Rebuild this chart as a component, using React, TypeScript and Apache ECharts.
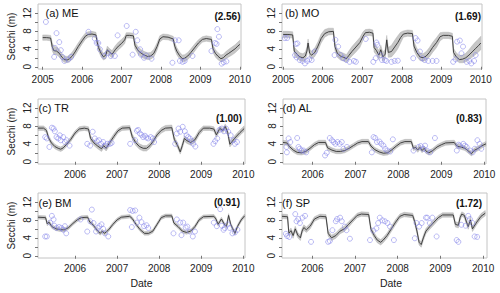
import React, { useEffect, useRef } from "react";
import * as echarts from "echarts";

// [decimal year, median, lower, upper]
const bandA = [
  [2005.0, 6.5, 5.9, 7.1], [2005.1, 6.5, 5.9, 7.1], [2005.2, 6.4, 5.8, 7.0], [2005.24, 4.5, 3.6, 5.4],
  [2005.28, 3.6, 2.8, 4.6], [2005.35, 3.5, 2.7, 4.4], [2005.42, 3.0, 2.2, 3.9], [2005.48, 2.2, 1.5, 3.0],
  [2005.55, 1.6, 1.0, 2.4], [2005.62, 1.5, 0.9, 2.3], [2005.68, 1.8, 1.2, 2.6], [2005.75, 2.4, 1.7, 3.3],
  [2005.82, 3.3, 2.5, 4.2], [2005.9, 4.5, 3.7, 5.3], [2006.0, 5.8, 5.1, 6.6], [2006.08, 6.8, 6.1, 7.5],
  [2006.15, 7.2, 6.6, 7.8], [2006.25, 7.3, 6.7, 7.9], [2006.35, 7.1, 6.5, 7.7], [2006.38, 5.5, 4.7, 6.3],
  [2006.42, 4.2, 3.4, 5.0], [2006.48, 3.0, 2.2, 3.8], [2006.54, 2.2, 1.5, 3.0], [2006.6, 2.6, 1.8, 3.4],
  [2006.64, 3.8, 3.0, 4.6], [2006.7, 3.2, 2.4, 4.0], [2006.76, 2.8, 2.0, 3.6], [2006.84, 3.8, 3.0, 4.7],
  [2006.92, 4.6, 3.8, 5.5], [2007.0, 5.2, 4.4, 6.1], [2007.08, 6.0, 5.2, 6.8], [2007.12, 7.0, 6.4, 7.6],
  [2007.2, 7.0, 6.4, 7.6], [2007.3, 6.9, 6.3, 7.5], [2007.34, 4.8, 4.0, 5.6], [2007.42, 3.6, 2.8, 4.4],
  [2007.5, 3.0, 2.2, 3.8], [2007.58, 2.6, 1.8, 3.4], [2007.66, 2.3, 1.6, 3.1], [2007.74, 2.4, 1.7, 3.2],
  [2007.82, 3.0, 2.2, 3.9], [2007.9, 4.5, 3.7, 5.3], [2007.97, 6.2, 5.5, 6.9], [2008.05, 6.7, 6.1, 7.3],
  [2008.18, 6.6, 6.0, 7.2], [2008.31, 6.2, 5.6, 6.8], [2008.35, 4.6, 3.8, 5.4], [2008.4, 3.5, 2.7, 4.3],
  [2008.47, 2.5, 1.8, 3.3], [2008.54, 1.8, 1.1, 2.6], [2008.6, 1.9, 1.2, 2.7], [2008.68, 2.4, 1.6, 3.2],
  [2008.76, 3.2, 2.4, 4.0], [2008.85, 4.2, 3.4, 5.0], [2008.95, 5.3, 4.6, 6.0], [2009.05, 6.1, 5.5, 6.7],
  [2009.15, 6.3, 5.7, 6.9], [2009.28, 6.1, 5.5, 6.7], [2009.32, 4.0, 3.2, 4.8], [2009.38, 3.0, 2.2, 3.8],
  [2009.44, 2.4, 1.6, 3.2], [2009.52, 1.8, 1.1, 2.6], [2009.58, 2.0, 1.3, 2.8], [2009.65, 2.6, 1.8, 3.4],
  [2009.72, 3.0, 2.2, 3.9], [2009.8, 3.5, 2.6, 4.4], [2009.88, 4.0, 3.1, 4.9], [2009.95, 4.6, 3.7, 5.5],
  [2010.0, 5.0, 4.1, 5.9],
];
const bandB = [
  [2005.0, 7.2, 6.5, 7.9], [2005.12, 7.2, 6.5, 7.9], [2005.24, 7.1, 6.4, 7.8], [2005.28, 3.5, 2.6, 4.4],
  [2005.35, 2.8, 1.9, 3.7], [2005.42, 2.2, 1.4, 3.1], [2005.5, 2.0, 1.2, 2.9], [2005.56, 2.4, 1.5, 3.3],
  [2005.6, 3.5, 2.6, 4.4], [2005.63, 5.3, 4.4, 6.2], [2005.67, 3.0, 2.1, 3.9], [2005.72, 2.6, 1.7, 3.5],
  [2005.8, 3.2, 2.3, 4.2], [2005.88, 4.6, 3.6, 5.6], [2005.96, 6.3, 5.3, 7.3], [2006.05, 7.4, 6.6, 8.3],
  [2006.15, 7.8, 7.1, 8.6], [2006.27, 7.9, 7.2, 8.6], [2006.31, 4.5, 3.6, 5.4], [2006.37, 3.0, 2.1, 3.9],
  [2006.45, 2.4, 1.5, 3.3], [2006.53, 2.1, 1.3, 3.0], [2006.6, 1.8, 1.0, 2.7], [2006.66, 2.5, 1.6, 3.5],
  [2006.74, 3.4, 2.4, 4.5], [2006.84, 4.4, 3.3, 5.5], [2006.94, 5.4, 4.3, 6.5], [2007.02, 6.8, 5.9, 7.8],
  [2007.08, 7.6, 6.9, 8.3], [2007.18, 7.7, 7.0, 8.4], [2007.27, 7.5, 6.8, 8.2], [2007.3, 4.3, 3.3, 5.3],
  [2007.36, 3.6, 2.6, 4.6], [2007.42, 2.6, 1.6, 3.6], [2007.47, 3.8, 2.8, 4.8], [2007.52, 2.2, 1.3, 3.2],
  [2007.58, 2.8, 1.8, 3.9], [2007.62, 6.0, 5.0, 7.0], [2007.66, 3.2, 2.1, 4.3], [2007.74, 3.4, 2.2, 4.8],
  [2007.82, 4.4, 3.0, 5.9], [2007.9, 5.4, 4.0, 6.9], [2007.97, 6.5, 5.3, 7.7], [2008.04, 7.3, 6.6, 8.0],
  [2008.15, 7.5, 6.8, 8.2], [2008.27, 7.4, 6.7, 8.1], [2008.31, 4.6, 3.6, 5.6], [2008.38, 3.2, 2.3, 4.2],
  [2008.46, 2.2, 1.4, 3.1], [2008.54, 2.0, 1.2, 2.9], [2008.62, 2.4, 1.5, 3.4], [2008.7, 3.2, 2.2, 4.3],
  [2008.78, 4.3, 3.2, 5.4], [2008.88, 5.4, 4.3, 6.5], [2008.97, 6.7, 5.8, 7.6], [2009.05, 7.0, 6.3, 7.7],
  [2009.18, 7.0, 6.3, 7.7], [2009.28, 6.8, 6.1, 7.5], [2009.31, 3.2, 2.3, 4.1], [2009.38, 2.2, 1.4, 3.1],
  [2009.46, 1.6, 0.9, 2.5], [2009.54, 1.7, 0.9, 2.6], [2009.62, 2.0, 1.1, 3.0], [2009.7, 2.6, 1.6, 3.8],
  [2009.78, 3.3, 2.1, 4.7], [2009.86, 4.0, 2.7, 5.5], [2009.94, 4.7, 3.3, 6.2], [2010.0, 5.3, 3.8, 6.8],
];
const bandC = [
  [2005.12, 7.5, 7.0, 8.0], [2005.25, 7.5, 7.0, 8.0], [2005.32, 7.0, 6.5, 7.5], [2005.37, 5.4, 4.9, 5.9],
  [2005.44, 4.2, 3.7, 4.7], [2005.52, 3.4, 2.9, 3.9], [2005.6, 3.0, 2.5, 3.5], [2005.66, 2.8, 2.3, 3.3],
  [2005.72, 3.1, 2.6, 3.6], [2005.8, 3.9, 3.4, 4.4], [2005.9, 5.0, 4.5, 5.5], [2006.0, 6.4, 5.9, 6.9],
  [2006.1, 7.3, 6.8, 7.8], [2006.22, 7.5, 7.0, 8.0], [2006.32, 7.3, 6.8, 7.8], [2006.37, 5.2, 4.6, 5.8],
  [2006.45, 4.2, 3.6, 4.8], [2006.54, 3.5, 2.9, 4.1], [2006.63, 2.9, 2.3, 3.5], [2006.68, 3.6, 3.0, 4.2],
  [2006.74, 3.0, 2.4, 3.6], [2006.82, 4.2, 3.6, 4.8], [2006.92, 5.6, 5.0, 6.2], [2007.02, 6.9, 6.4, 7.4],
  [2007.12, 7.5, 7.0, 8.0], [2007.3, 7.6, 7.1, 8.1], [2007.36, 5.6, 5.0, 6.2], [2007.44, 4.3, 3.7, 4.9],
  [2007.53, 3.4, 2.8, 4.0], [2007.62, 3.0, 2.4, 3.6], [2007.7, 3.0, 2.4, 3.6], [2007.78, 3.6, 3.0, 4.2],
  [2007.86, 4.6, 4.0, 5.2], [2007.95, 6.0, 5.4, 6.6], [2008.05, 7.0, 6.4, 7.6], [2008.15, 7.5, 6.9, 8.1],
  [2008.3, 7.6, 7.0, 8.2], [2008.36, 5.0, 4.4, 5.6], [2008.44, 3.6, 3.0, 4.2], [2008.5, 2.2, 1.7, 2.7],
  [2008.55, 3.6, 3.0, 4.2], [2008.6, 5.2, 4.6, 5.8], [2008.66, 4.7, 4.1, 5.3], [2008.75, 4.3, 3.7, 4.9],
  [2008.85, 4.9, 4.3, 5.5], [2008.95, 6.5, 5.9, 7.1], [2009.05, 7.5, 7.0, 8.0], [2009.2, 7.5, 7.0, 8.0],
  [2009.3, 7.3, 6.8, 7.8], [2009.36, 6.0, 5.4, 6.6], [2009.44, 7.4, 6.9, 7.9], [2009.52, 7.0, 6.5, 7.5],
  [2009.57, 7.9, 7.4, 8.4], [2009.63, 6.5, 5.9, 7.1], [2009.68, 3.9, 3.3, 4.5], [2009.74, 4.6, 4.0, 5.2],
  [2009.82, 5.5, 4.9, 6.1], [2009.92, 6.5, 5.9, 7.1], [2010.02, 7.4, 6.8, 8.0],
];
const bandD = [
  [2005.31, 4.3, 3.8, 4.8], [2005.4, 4.2, 3.7, 4.7], [2005.46, 3.4, 2.9, 3.9], [2005.55, 2.6, 2.1, 3.1],
  [2005.64, 2.1, 1.6, 2.6], [2005.74, 2.0, 1.5, 2.5], [2005.84, 2.3, 1.8, 2.8], [2005.94, 3.0, 2.5, 3.5],
  [2006.04, 3.8, 3.3, 4.3], [2006.14, 4.3, 3.8, 4.8], [2006.3, 4.3, 3.8, 4.8], [2006.35, 3.1, 2.6, 3.6],
  [2006.45, 2.6, 2.1, 3.1], [2006.55, 2.3, 1.8, 2.8], [2006.65, 2.3, 1.8, 2.8], [2006.75, 2.5, 2.0, 3.0],
  [2006.85, 3.0, 2.5, 3.5], [2006.95, 3.6, 3.1, 4.1], [2007.05, 4.2, 3.7, 4.7], [2007.15, 4.5, 4.0, 5.0],
  [2007.3, 4.5, 4.0, 5.0], [2007.36, 3.5, 3.0, 4.0], [2007.45, 2.7, 2.2, 3.2], [2007.55, 2.2, 1.7, 2.7],
  [2007.65, 1.9, 1.4, 2.4], [2007.75, 2.0, 1.5, 2.5], [2007.85, 2.7, 2.2, 3.2], [2007.95, 3.5, 3.0, 4.0],
  [2008.05, 4.2, 3.7, 4.7], [2008.15, 4.5, 4.0, 5.0], [2008.3, 4.5, 4.0, 5.0], [2008.35, 3.0, 2.5, 3.5],
  [2008.4, 3.2, 2.7, 3.7], [2008.45, 2.6, 2.1, 3.1], [2008.5, 3.2, 2.7, 3.7], [2008.55, 2.5, 2.0, 3.0],
  [2008.6, 3.0, 2.5, 3.5], [2008.65, 2.3, 1.8, 2.8], [2008.71, 2.0, 1.5, 2.5], [2008.8, 2.5, 2.0, 3.0],
  [2008.9, 3.3, 2.8, 3.8], [2009.0, 3.8, 3.3, 4.3], [2009.1, 4.2, 3.7, 4.7], [2009.3, 4.3, 3.8, 4.8],
  [2009.36, 3.5, 3.0, 4.0], [2009.45, 3.3, 2.8, 3.8], [2009.55, 3.0, 2.5, 3.5], [2009.64, 2.3, 1.8, 2.8],
  [2009.7, 1.8, 1.3, 2.3], [2009.76, 2.5, 2.0, 3.0], [2009.86, 3.0, 2.5, 3.5], [2009.95, 3.6, 3.1, 4.1],
  [2010.04, 4.0, 3.5, 4.5],
];
const bandE = [
  [2005.12, 8.6, 8.2, 9.0], [2005.3, 8.5, 8.1, 8.9], [2005.34, 7.1, 6.7, 7.5], [2005.38, 7.5, 7.1, 7.9],
  [2005.45, 6.5, 6.1, 6.9], [2005.55, 6.0, 5.6, 6.4], [2005.65, 5.8, 5.4, 6.2], [2005.75, 5.8, 5.4, 6.2],
  [2005.85, 6.3, 5.9, 6.7], [2005.95, 7.2, 6.8, 7.6], [2006.05, 8.0, 7.6, 8.4], [2006.15, 8.5, 8.1, 8.9],
  [2006.3, 8.6, 8.2, 9.0], [2006.35, 7.5, 7.1, 7.9], [2006.4, 7.2, 6.8, 7.6], [2006.46, 6.5, 6.1, 6.9],
  [2006.54, 5.5, 5.1, 5.9], [2006.6, 5.0, 4.6, 5.4], [2006.65, 5.5, 5.1, 5.9], [2006.7, 5.0, 4.6, 5.4],
  [2006.8, 5.8, 5.4, 6.2], [2006.9, 7.0, 6.6, 7.4], [2007.0, 8.0, 7.6, 8.4], [2007.1, 8.6, 8.2, 9.0],
  [2007.3, 8.8, 8.4, 9.2], [2007.36, 8.3, 7.9, 8.7], [2007.45, 7.0, 6.6, 7.4], [2007.55, 5.8, 5.4, 6.2],
  [2007.65, 5.0, 4.6, 5.4], [2007.75, 5.0, 4.6, 5.4], [2007.85, 5.5, 5.1, 5.9], [2007.95, 7.0, 6.6, 7.4],
  [2008.05, 8.5, 8.1, 8.9], [2008.15, 8.9, 8.5, 9.3], [2008.3, 8.9, 8.5, 9.3], [2008.35, 7.3, 6.9, 7.7],
  [2008.45, 6.5, 6.1, 6.9], [2008.55, 5.5, 5.1, 5.9], [2008.65, 5.2, 4.8, 5.6], [2008.75, 5.5, 5.1, 5.9],
  [2008.85, 6.5, 6.1, 6.9], [2008.95, 8.0, 7.6, 8.4], [2009.05, 8.7, 8.3, 9.1], [2009.3, 8.8, 8.4, 9.2],
  [2009.35, 8.2, 7.8, 8.6], [2009.4, 7.0, 6.6, 7.4], [2009.48, 8.2, 7.8, 8.6], [2009.55, 7.0, 6.6, 7.4],
  [2009.6, 6.5, 6.1, 6.9], [2009.65, 9.0, 8.6, 9.4], [2009.7, 7.0, 6.6, 7.4], [2009.75, 6.0, 5.6, 6.4],
  [2009.8, 5.0, 4.6, 5.4], [2009.86, 6.5, 6.1, 6.9], [2009.95, 8.0, 7.6, 8.4], [2010.03, 8.9, 8.5, 9.3],
];
const bandF = [
  [2005.29, 8.8, 8.3, 9.3], [2005.42, 8.7, 8.2, 9.2], [2005.45, 5.0, 4.4, 5.6], [2005.5, 5.6, 5.0, 6.2],
  [2005.55, 4.5, 3.9, 5.1], [2005.6, 6.0, 5.4, 6.6], [2005.66, 4.6, 4.0, 5.2], [2005.72, 4.0, 3.4, 4.6],
  [2005.76, 5.5, 4.9, 6.1], [2005.8, 6.3, 5.7, 6.9], [2005.86, 5.8, 5.2, 6.4], [2005.95, 6.6, 6.0, 7.2],
  [2006.05, 8.2, 7.7, 8.7], [2006.18, 8.8, 8.3, 9.3], [2006.32, 8.7, 8.2, 9.2], [2006.37, 5.0, 4.4, 5.6],
  [2006.45, 4.0, 3.4, 4.6], [2006.55, 4.5, 3.9, 5.1], [2006.65, 5.5, 4.9, 6.1], [2006.75, 6.0, 5.4, 6.6],
  [2006.85, 7.0, 6.4, 7.6], [2006.95, 8.0, 7.5, 8.5], [2007.05, 9.0, 8.5, 9.5], [2007.15, 9.3, 8.8, 9.8],
  [2007.32, 9.2, 8.7, 9.7], [2007.37, 6.0, 5.4, 6.6], [2007.45, 4.5, 3.9, 5.1], [2007.52, 3.5, 2.9, 4.1],
  [2007.6, 3.0, 2.4, 3.6], [2007.66, 3.5, 2.9, 4.1], [2007.75, 4.5, 3.9, 5.1], [2007.85, 6.0, 5.4, 6.6],
  [2007.95, 7.5, 6.9, 8.1], [2008.05, 8.8, 8.3, 9.3], [2008.15, 9.2, 8.7, 9.7], [2008.35, 9.0, 8.5, 9.5],
  [2008.4, 7.5, 6.9, 8.1], [2008.45, 5.5, 4.9, 6.1], [2008.5, 3.0, 2.4, 3.6], [2008.55, 2.5, 1.9, 3.1],
  [2008.6, 4.0, 3.4, 4.6], [2008.66, 5.5, 4.9, 6.1], [2008.75, 6.5, 5.9, 7.1], [2008.85, 7.5, 6.9, 8.1],
  [2008.95, 8.5, 8.0, 9.0], [2009.05, 9.1, 8.6, 9.6], [2009.3, 9.1, 8.6, 9.6], [2009.35, 7.0, 6.4, 7.6],
  [2009.42, 6.8, 6.2, 7.4], [2009.46, 8.5, 7.9, 9.1], [2009.5, 9.3, 8.8, 9.8], [2009.56, 9.0, 8.5, 9.5],
  [2009.61, 7.5, 6.9, 8.1], [2009.65, 6.5, 5.9, 7.1], [2009.7, 8.0, 7.4, 8.6], [2009.75, 6.0, 5.4, 6.6],
  [2009.85, 7.5, 6.9, 8.1], [2009.95, 8.8, 8.2, 9.4], [2010.05, 9.5, 8.9, 10.1],
];

// observed Secchi depths [decimal year, m]
const ptsA = [
  [2005.08, 10.0], [2005.35, 7.5], [2005.42, 5.5], [2005.31, 4.2], [2005.29, 2.2], [2005.46, 3.7],
  [2005.5, 2.2], [2005.55, 1.3], [2005.65, 1.6], [2005.72, 2.2], [2006.16, 7.8], [2006.32, 6.3],
  [2006.37, 5.3], [2006.41, 5.3], [2006.45, 3.9], [2006.56, 2.4], [2006.65, 3.1], [2006.73, 2.4],
  [2006.83, 2.4], [2006.9, 7.0], [2007.13, 9.1], [2007.28, 2.7], [2007.36, 7.8], [2007.4, 5.9],
  [2007.47, 3.9], [2007.49, 2.7], [2007.57, 2.0], [2007.63, 2.5], [2007.76, 1.8], [2008.29, 0.9],
  [2008.36, 5.9], [2008.45, 5.9], [2008.48, 1.3], [2008.55, 1.1], [2008.6, 1.3], [2008.8, 2.4],
  [2009.43, 8.4], [2009.47, 6.7], [2009.37, 5.3], [2009.41, 5.1], [2009.28, 3.5], [2009.54, 0.7],
  [2009.59, 1.0], [2009.66, 1.2],
];
const ptsB = [
  [2005.04, 6.4], [2005.1, 6.4], [2005.32, 5.1], [2005.36, 5.2], [2005.3, 2.6], [2005.34, 2.1],
  [2005.42, 1.5], [2005.49, 1.3], [2005.55, 0.75], [2005.61, 1.3], [2005.66, 1.65], [2005.72, 1.5],
  [2005.8, 3.4], [2006.3, 2.6], [2006.32, 6.0], [2006.39, 4.5], [2006.45, 2.6], [2006.52, 1.9],
  [2006.6, 1.5], [2006.68, 1.1], [2006.79, 1.3], [2006.84, 1.1], [2007.09, 6.2], [2007.28, 1.1],
  [2007.34, 1.9], [2007.36, 5.4], [2007.38, 4.9], [2007.46, 2.6], [2007.5, 1.5], [2007.57, 1.5],
  [2007.61, 1.3], [2007.74, 1.1], [2007.82, 1.3], [2007.9, 1.35], [2008.29, 1.9], [2008.35, 6.4],
  [2008.4, 5.85], [2008.46, 3.4], [2008.52, 1.9], [2008.58, 1.5], [2008.67, 1.3], [2008.78, 1.3],
  [2008.88, 1.3], [2009.3, 1.1], [2009.36, 1.65], [2009.4, 5.6], [2009.47, 5.85], [2009.55, 4.5],
  [2009.51, 3.0], [2009.64, 1.1], [2009.71, 1.3], [2009.76, 0.75], [2009.83, 1.3], [2009.87, 2.6],
];
const ptsC = [
  [2005.29, 5.5], [2005.33, 5.2], [2005.39, 3.3], [2005.45, 7.6], [2005.49, 7.4], [2005.52, 6.8],
  [2005.56, 5.5], [2005.6, 5.2], [2005.64, 5.9], [2005.66, 4.8], [2005.72, 5.5], [2005.76, 4.4],
  [2005.8, 4.8], [2005.87, 3.6], [2006.29, 4.0], [2006.36, 3.6], [2006.42, 6.7], [2006.47, 5.2],
  [2006.52, 4.6], [2006.57, 4.8], [2006.62, 4.0], [2006.67, 4.4], [2006.71, 3.6], [2006.77, 4.0],
  [2006.83, 4.0], [2006.87, 4.2], [2007.31, 4.0], [2007.43, 4.8], [2007.47, 6.9], [2007.5, 7.1],
  [2007.54, 6.3], [2007.58, 6.0], [2007.62, 5.5], [2007.66, 5.8], [2007.7, 5.4], [2007.74, 5.2],
  [2007.8, 5.5], [2007.85, 5.2], [2007.88, 4.4], [2008.38, 4.0], [2008.42, 6.3], [2008.46, 7.4],
  [2008.5, 6.7], [2008.56, 7.8], [2008.61, 6.8], [2008.65, 5.9], [2008.69, 5.5], [2008.73, 5.2],
  [2008.77, 4.6], [2008.81, 4.0], [2008.86, 3.4], [2009.29, 4.0], [2009.33, 4.6], [2009.38, 5.2],
  [2009.43, 7.1], [2009.49, 7.4], [2009.54, 6.8], [2009.59, 7.4], [2009.64, 6.7], [2009.7, 5.9],
  [2009.76, 4.8], [2009.8, 4.0], [2009.85, 4.4],
];
const ptsD = [
  [2005.39, 3.3], [2005.4, 2.1], [2005.44, 5.2], [2005.48, 4.4], [2005.64, 5.3], [2005.67, 3.3],
  [2005.7, 2.9], [2005.74, 2.5], [2005.79, 2.5], [2005.85, 2.1], [2006.29, 1.4], [2006.33, 2.0],
  [2006.4, 5.3], [2006.45, 4.8], [2006.49, 4.4], [2006.53, 4.0], [2006.58, 4.4], [2006.63, 4.0],
  [2006.68, 4.4], [2006.72, 2.9], [2006.8, 3.3], [2007.38, 2.1], [2007.42, 5.5], [2007.46, 5.3],
  [2007.5, 4.4], [2007.56, 4.5], [2007.6, 4.0], [2007.65, 3.6], [2007.69, 2.9], [2007.74, 2.5],
  [2007.81, 2.3], [2007.87, 5.0], [2008.35, 2.5], [2008.47, 3.3], [2008.52, 3.5], [2008.58, 2.9],
  [2008.62, 3.6], [2008.66, 2.5], [2008.74, 2.1], [2008.85, 5.3], [2009.36, 2.5], [2009.4, 3.8],
  [2009.43, 3.6], [2009.51, 4.0], [2009.55, 3.6], [2009.59, 3.3], [2009.67, 2.5], [2009.73, 2.1],
  [2009.78, 2.9], [2009.84, 4.8], [2009.89, 4.0], [2009.93, 2.9],
];
const ptsE = [
  [2005.29, 4.3], [2005.33, 4.3], [2005.41, 7.4], [2005.45, 8.9], [2005.49, 8.1], [2005.51, 6.7],
  [2005.56, 6.2], [2005.62, 6.4], [2005.68, 6.2], [2005.72, 5.8], [2005.76, 6.6], [2005.79, 5.0],
  [2006.13, 8.1], [2006.29, 5.4], [2006.36, 7.7], [2006.4, 10.3], [2006.44, 7.3], [2006.5, 5.4],
  [2006.54, 6.2], [2006.58, 6.6], [2006.63, 7.0], [2006.67, 6.0], [2006.71, 5.0], [2006.79, 4.3],
  [2007.31, 10.2], [2007.37, 10.0], [2007.43, 10.1], [2007.35, 6.4], [2007.47, 7.4], [2007.53, 8.5],
  [2007.58, 7.5], [2007.64, 6.6], [2007.7, 6.8], [2007.74, 6.2], [2008.34, 5.0], [2008.42, 8.1],
  [2008.5, 7.4], [2008.53, 4.6], [2008.57, 7.4], [2008.63, 6.3], [2008.67, 6.5], [2008.73, 5.4],
  [2008.8, 4.3], [2008.85, 5.4], [2009.3, 7.4], [2009.37, 6.6], [2009.45, 10.4], [2009.49, 6.7],
  [2009.53, 5.8], [2009.56, 6.2], [2009.63, 7.0], [2009.68, 6.2], [2009.74, 5.0], [2009.8, 5.2],
  [2009.86, 5.8],
];
const ptsF = [
  [2005.38, 4.9], [2005.41, 4.4], [2005.46, 4.2], [2005.6, 9.3], [2005.63, 7.7], [2005.67, 8.2],
  [2005.71, 7.3], [2005.77, 8.5], [2005.83, 8.9], [2005.97, 3.1], [2006.37, 3.1], [2006.41, 3.3],
  [2006.47, 5.7], [2006.55, 7.7], [2006.58, 8.2], [2006.65, 8.5], [2006.69, 7.7], [2006.76, 6.5],
  [2006.8, 5.7], [2006.88, 3.8], [2007.35, 3.5], [2007.43, 5.6], [2007.5, 6.1], [2007.54, 7.3],
  [2007.58, 8.5], [2007.64, 7.9], [2007.7, 7.7], [2007.76, 7.3], [2007.82, 6.5], [2007.91, 3.5],
  [2008.4, 3.9], [2008.44, 7.3], [2008.5, 6.5], [2008.56, 7.3], [2008.66, 8.5], [2008.69, 8.5],
  [2008.75, 7.3], [2008.81, 8.5], [2008.91, 4.3], [2009.38, 3.5], [2009.42, 3.1], [2009.49, 6.9],
  [2009.59, 6.7], [2009.65, 8.9], [2009.69, 8.2], [2009.75, 7.3], [2009.8, 4.3], [2009.86, 4.2],
];

const panelTitles = ["(a) ME", "(b) MO", "(c) TR", "(d) AL", "(e) BM", "(f) SP"];
const panelScores = ["(2.56)", "(1.69)", "(1.00)", "(0.83)", "(0.91)", "(1.72)"];
const yearTicksTop = [2005, 2006, 2007, 2008, 2009, 2010];
const yearTicksLower = [2006, 2007, 2008, 2009, 2010];
const yMinorTicks = [0, 2, 4, 6, 8, 10, 12];
const yLabelTicks = [0, 4, 8, 12];
const yTitle = "Secchi (m)";
const xTitle = "Date";

const bands = [bandA, bandB, bandC, bandD, bandE, bandF];
const points = [ptsA, ptsB, ptsC, ptsD, ptsE, ptsF];

// layout: grid box + x range for each panel
const layout = [
  { left: 38, top: 4, width: 203, height: 65, xmin: 2004.88, xmax: 2010.03, ticks: yearTicksTop },
  { left: 282, top: 4, width: 200, height: 65, xmin: 2004.97, xmax: 2010.03, ticks: yearTicksTop },
  { left: 38, top: 99, width: 207, height: 65, xmin: 2005.12, xmax: 2010.04, ticks: yearTicksLower },
  { left: 283, top: 99, width: 203, height: 65, xmin: 2005.31, xmax: 2010.04, ticks: yearTicksLower },
  { left: 38, top: 193, width: 207, height: 65, xmin: 2005.12, xmax: 2010.04, ticks: yearTicksLower },
  { left: 282, top: 193, width: 205, height: 65, xmin: 2005.29, xmax: 2010.09, ticks: yearTicksLower },
];
const titlePos = [
  { tx: 45.5, ty: 13.3, sx: 240.5, sy: 16.7 },
  { tx: 285, ty: 13.3, sx: 481, sy: 16.7 },
  { tx: 38.5, ty: 108.3, sx: 242, sy: 118 },
  { tx: 282.5, ty: 108.3, sx: 482, sy: 118 },
  { tx: 38.5, ty: 202.7, sx: 240, sy: 202.7 },
  { tx: 282, ty: 202.7, sx: 482, sy: 203.3 },
];

const FONT = "'Liberation Sans', Arial, Helvetica, sans-serif";

export default function App() {
  const ref = useRef<HTMLDivElement>(null);
  useEffect(() => {
    if (!ref.current) return;
    const chart = echarts.init(ref.current, null, { renderer: "svg" });

    const grid = layout.map((l) => ({
      left: l.left, top: l.top, width: l.width, height: l.height,
      show: true, borderColor: "#c4c4c4", borderWidth: 1, backgroundColor: "transparent",
    }));
    const xAxis = layout.map((l, i) => ({
      type: "value", gridIndex: i, min: l.xmin, max: l.xmax,
      axisLine: { show: false }, splitLine: { show: false },
      axisTick: { show: true, customValues: l.ticks, length: 3, lineStyle: { color: "#777", width: 1 } },
      axisLabel: {
        show: true, customValues: l.ticks, fontSize: 10, color: "#222", margin: 5, fontFamily: FONT,
        formatter: (v: number) => String(Math.round(v)),
      },
    }));
    const yAxis = layout.map((l, i) => ({
      type: "value", gridIndex: i, min: -0.5, max: 14,
      axisLine: { show: false }, splitLine: { show: false },
      axisTick: { show: true, customValues: yMinorTicks, length: 3, lineStyle: { color: "#777", width: 1 } },
      axisLabel: {
        show: true, customValues: yLabelTicks, fontSize: 10, color: "#222", margin: 6, rotate: 90,
        fontFamily: FONT, formatter: (v: number) => String(Math.round(v)),
      },
    }));

    const series: any[] = [];
    bands.forEach((band, i) => {
      series.push({
        type: "custom", xAxisIndex: i, yAxisIndex: i, silent: true, z: 1,
        data: band.map((b) => [b[0], b[2], b[3]]),
        encode: { x: 0, y: [1, 2] },
        renderItem: (params: any, api: any) => {
          if (params.dataIndex !== 0) return null;
          const pts: number[][] = [];
          for (const b of band) pts.push(api.coord([b[0], b[3]]));
          for (let k = band.length - 1; k >= 0; k--) pts.push(api.coord([band[k][0], band[k][2]]));
          return {
            type: "polygon", shape: { points: pts },
            style: { fill: "#c6c6c6", stroke: "#a8a8a8", lineWidth: 0.4 },
          };
        },
      });
      series.push({
        type: "line", xAxisIndex: i, yAxisIndex: i, z: 3, silent: true,
        data: band.map((b) => [b[0], b[1]]),
        symbol: "none", showSymbol: false,
        lineStyle: { color: "#333", width: 0.9 },
      });
      series.push({
        type: "scatter", xAxisIndex: i, yAxisIndex: i, z: 4, silent: true,
        data: points[i], symbol: "circle", symbolSize: 5,
        itemStyle: { color: "rgba(0,0,0,0)", borderColor: "#8585ea", borderWidth: 0.7 },
      });
    });

    const graphic: any[] = [];
    titlePos.forEach((p, i) => {
      graphic.push({
        type: "text", x: p.tx, y: p.ty, z: 10,
        style: { text: panelTitles[i], font: `11px ${FONT}`, fill: "#111", textAlign: "left", textVerticalAlign: "middle" },
      });
      graphic.push({
        type: "text", x: p.sx, y: p.sy, z: 10,
        style: { text: panelScores[i], font: `bold 10px ${FONT}`, fill: "#111", textAlign: "right", textVerticalAlign: "middle" },
      });
    });
    [36.5, 131.5, 225.5].forEach((cy) => {
      graphic.push({
        type: "text", x: 11, y: cy, rotation: Math.PI / 2,
        style: { text: yTitle, font: `10px ${FONT}`, fill: "#222", textAlign: "center", textVerticalAlign: "middle" },
      });
    });
    [141.5, 391].forEach((cx) => {
      graphic.push({
        type: "text", x: cx, y: 282.7,
        style: { text: xTitle, font: `10.5px ${FONT}`, fill: "#222", textAlign: "center", textVerticalAlign: "middle" },
      });
    });

    chart.setOption({
      animation: false,
      backgroundColor: "#ffffff",
      grid, xAxis, yAxis, series, graphic,
    });
    return () => chart.dispose();
  }, []);
  return <div ref={ref} style={{ position: "fixed", left: 0, top: 0, width: 500, height: 293 }} />;
}
